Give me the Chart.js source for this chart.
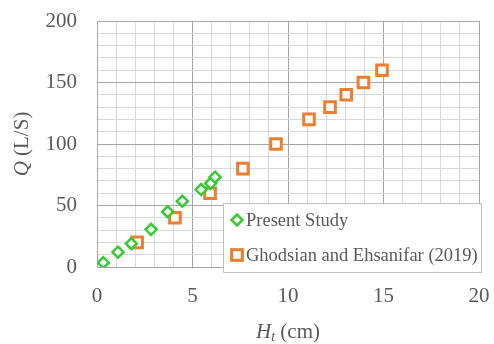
<!DOCTYPE html>
<html>
<head>
<meta charset="utf-8">
<script src="https://cdn.jsdelivr.net/npm/chart.js@4/dist/chart.umd.min.js"></script>
<style>
  html, body { margin: 0; padding: 0; background: #fff; }
  #wrap { width: 494px; height: 344px; }
</style>
</head>
<body>
<div id="wrap"><canvas id="chart" width="494" height="344"></canvas></div>
<script>
// Present Study
const presentH = [0.33, 1.1, 1.8, 2.83, 3.7, 4.47, 5.45, 5.95, 6.18];
const presentQ = [3.5, 12, 19, 30.6, 45, 53.5, 63, 68, 73];
// Ghodsian and Ehsanifar (2019)
const ghodsianH = [2.1, 4.08, 5.92, 7.64, 9.37, 11.1, 12.2, 13.05, 13.95, 14.92];
const ghodsianQ = [20, 40, 60, 80, 100, 120, 130, 140, 150, 160];

const xTickLabels = [0, 5, 10, 15, 20];
const yTickLabels = [0, 50, 100, 150, 200];
const seriesNames = ['Present Study', 'Ghodsian and Ehsanifar (2019)'];

const FONT = '"Liberation Serif", "Times New Roman", serif';
const TXT = '#595959';
const MAJOR = '#a6a6a6';
const MINOR = '#d9d9d9';
const GREEN = '#33cc33';
const ORANGE = '#ed7d31';

const toPts = (xs, ys) => xs.map((x, i) => ({ x: x, y: ys[i] }));

// axis titles and the boxed legend are drawn by hand
const extras = {
  id: 'extras',
  afterDraw(chart) {
    const ctx = chart.ctx;
    const area = chart.chartArea;
    ctx.save();
    ctx.fillStyle = TXT;
    ctx.textBaseline = 'middle';

    // x title: H_t (cm)
    const big = '21px ' + FONT;
    const bigI = 'italic 21px ' + FONT;
    const subI = 'italic 14px ' + FONT;
    ctx.font = bigI; const wH = ctx.measureText('H').width;
    ctx.font = subI; const wt = ctx.measureText('t').width;
    ctx.font = big; const wc = ctx.measureText(' (cm)').width;
    let x = (area.left + area.right) / 2 - (wH + wt + wc) / 2;
    const ty = 332;
    ctx.textAlign = 'left';
    ctx.font = bigI; ctx.fillText('H', x, ty); x += wH;
    ctx.font = subI; ctx.fillText('t', x, ty + 5); x += wt;
    ctx.font = big; ctx.fillText(' (cm)', x, ty);

    // y title: Q (L/S)
    ctx.save();
    ctx.translate(22, (area.top + area.bottom) / 2);
    ctx.rotate(-Math.PI / 2);
    ctx.font = bigI; const wQ = ctx.measureText('Q').width;
    ctx.font = big; const wl = ctx.measureText(' (L/S)').width;
    let yx = -(wQ + wl) / 2;
    ctx.font = bigI; ctx.fillText('Q', yx, 0); yx += wQ;
    ctx.font = big; ctx.fillText(' (L/S)', yx, 0);
    ctx.restore();

    // legend
    const lx = 223.5, ly = 203.5, lw = 258, lh = 69;
    ctx.fillStyle = '#fff';
    ctx.fillRect(lx, ly, lw, lh);
    ctx.strokeStyle = '#bfbfbf';
    ctx.lineWidth = 1;
    ctx.strokeRect(lx, ly, lw, lh);
    const rows = [220, 255];
    chart.data.datasets.forEach((ds, i) => {
      Chart.helpers.drawPoint(ctx, {
        pointStyle: ds.pointStyle,
        radius: ds.pointRadius,
        borderWidth: ds.borderWidth,
        rotation: 0
      }, 237, rows[i]);
      ctx.fillStyle = '#fff';
      ctx.strokeStyle = ds.borderColor;
      ctx.lineWidth = ds.borderWidth;
      ctx.fill();
      ctx.stroke();
      ctx.fillStyle = TXT;
      ctx.font = '18.5px ' + FONT;
      ctx.textAlign = 'left';
      ctx.fillText(seriesNames[i], 246, rows[i] + 1);
    });
    ctx.restore();
  }
};

new Chart(document.getElementById('chart'), {
  type: 'scatter',
  data: {
    datasets: [
      {
        label: seriesNames[0],
        data: toPts(presentH, presentQ),
        pointStyle: 'rectRot',
        pointRadius: 5.5,
        borderWidth: 2.5,
        borderColor: GREEN,
        backgroundColor: '#fff'
      },
      {
        label: seriesNames[1],
        data: toPts(ghodsianH, ghodsianQ),
        pointStyle: 'rect',
        pointRadius: 7.5,
        borderWidth: 3,
        borderColor: ORANGE,
        backgroundColor: '#fff'
      }
    ]
  },
  options: {
    responsive: false,
    animation: false,
    layout: { padding: { left: 0, top: 21, right: 15, bottom: 0 } },
    plugins: { legend: { display: false }, tooltip: { enabled: false } },
    scales: {
      x: {
        type: 'linear',
        min: 0, max: 20,
        afterFit: s => { s.height = 77; s.paddingLeft = 0; s.paddingRight = 0; },
        border: { color: MAJOR, width: 1 },
        grid: {
          drawTicks: false,
          color: c => (c.tick.value % 5 === 0 ? MAJOR : MINOR),
          lineWidth: 1
        },
        ticks: {
          stepSize: 1,
          autoSkip: false,
          maxRotation: 0,
          padding: 17,
          color: TXT,
          font: { family: FONT, size: 21 },
          callback: v => (xTickLabels.includes(v) ? String(v) : '')
        }
      },
      y: {
        type: 'linear',
        min: 0, max: 200,
        afterFit: s => { s.width = 97; s.paddingTop = 0; s.paddingBottom = 0; },
        border: { color: MAJOR, width: 1 },
        grid: {
          drawTicks: false,
          color: c => (c.tick.value % 50 === 0 ? MAJOR : MINOR),
          lineWidth: 1
        },
        ticks: {
          stepSize: 10,
          autoSkip: false,
          padding: 20,
          color: TXT,
          font: { family: FONT, size: 21 },
          callback: v => (yTickLabels.includes(v) ? String(v) : '')
        }
      }
    }
  },
  plugins: [extras]
});
</script>
</body>
</html>
